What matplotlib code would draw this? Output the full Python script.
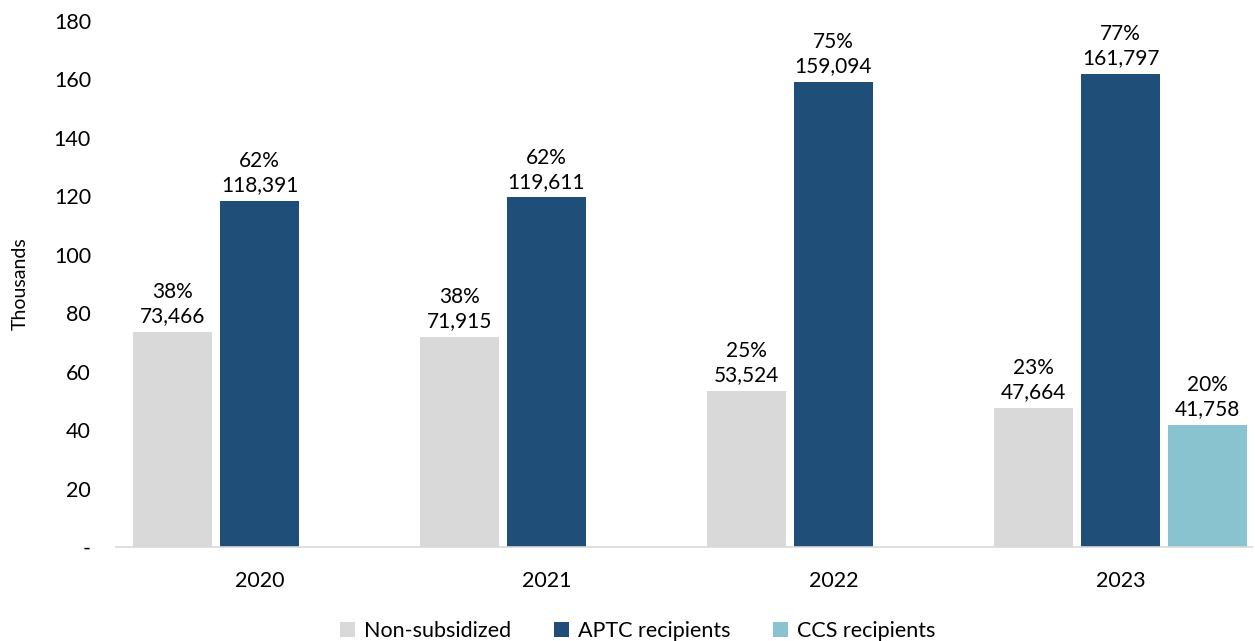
import matplotlib.pyplot as plt
import numpy as np

years = ['2020', '2021', '2022', '2023']
non_sub = [73466, 71915, 53524, 47664]
aptc = [118391, 119611, 159094, 161797]
ccs = [np.nan, np.nan, np.nan, 41758]
non_sub_pct = ['38%', '38%', '25%', '23%']
aptc_pct = ['62%', '62%', '75%', '77%']
ccs_pct = ['', '', '', '20%']

plt.rcParams['font.family'] = ['Lato', 'DejaVu Sans']

fig = plt.figure(figsize=(12.55, 6.41), dpi=100)
ax = fig.add_axes([0.0924, 0.1466, 0.9052, 0.8206])

x = np.arange(len(years))
w = 0.275
off = 0.303
series = [
    (non_sub, non_sub_pct, -off, '#D9D9D9', 'Non-subsidized'),
    (aptc, aptc_pct, 0, '#1F4E79', 'APTC recipients'),
    (ccs, ccs_pct, off, '#88C3CF', 'CCS recipients'),
]
for vals, pcts, o, col, name in series:
    v = np.array(vals, dtype=float) / 1000
    ax.bar(x + o, v, width=w, color=col, label=name)
    for xi, vi, p, raw in zip(x, v, pcts, vals):
        if np.isnan(vi):
            continue
        ax.text(xi + o, vi + 2, p + '\n' + format(int(raw), ','),
                ha='center', va='bottom', fontsize=15, linespacing=1.25)

ax.set_xlim(-0.5, 3.458)
ax.set_ylim(0, 180)
ax.set_yticks(range(0, 181, 20))
ax.set_yticklabels(['-'] + [str(t) for t in range(20, 181, 20)], fontsize=15.5)
ax.set_xticks(x)
ax.set_xticklabels(years, fontsize=15.5)
ax.tick_params(length=0)
ax.tick_params(axis='y', pad=18)
ax.tick_params(axis='x', pad=17)
for s in ['top', 'right', 'left']:
    ax.spines[s].set_visible(False)
ax.spines['bottom'].set_color('#D9D9D9')
ax.spines['bottom'].set_linewidth(1.2)
ax.set_ylabel('Thousands', fontsize=14)
ax.yaxis.set_label_coords(-0.077, 0.5)

fig.legend(loc='lower center', bbox_to_anchor=(0.508, -0.03), ncol=3, frameon=False,
           fontsize=15.5, handlelength=0.7, handleheight=0.7, columnspacing=2.0,
           handletextpad=0.4)

fig.savefig('out.png', dpi=100)
